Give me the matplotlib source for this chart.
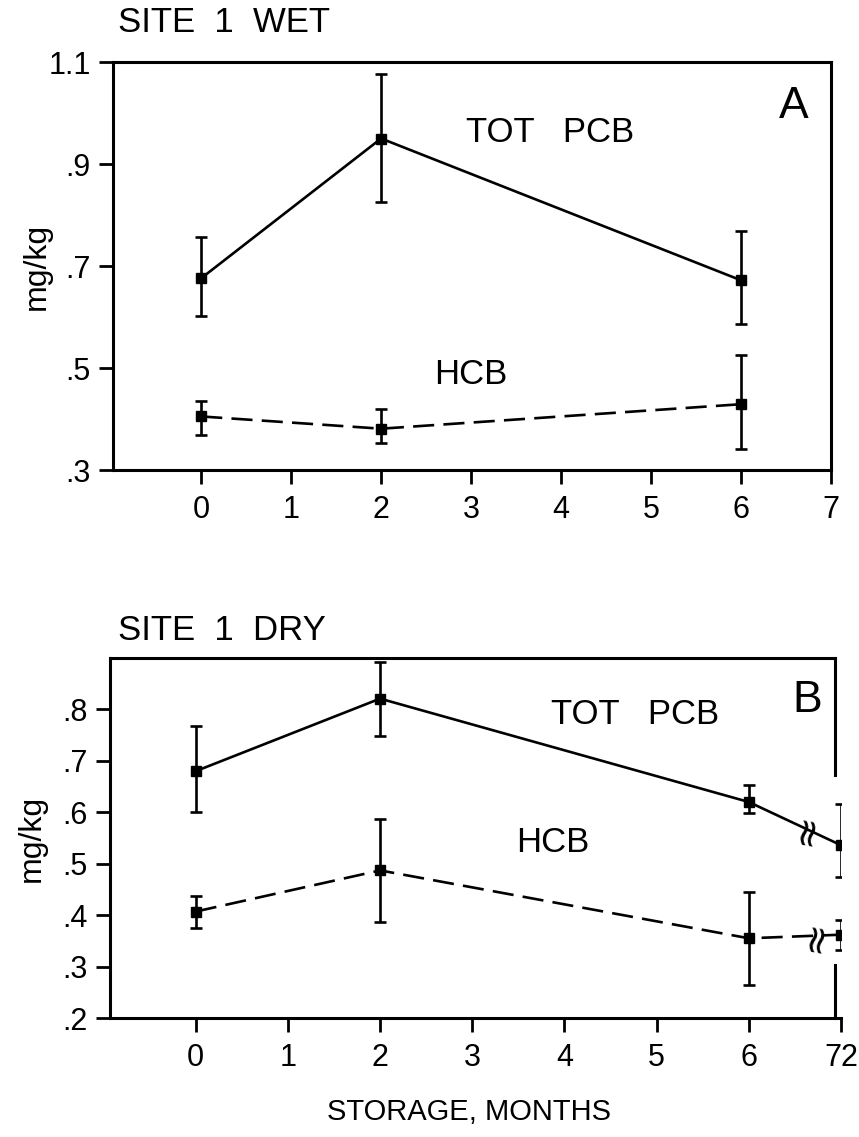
import numpy as np
import matplotlib.pyplot as plt
from matplotlib import transforms

plt.rcParams['font.family'] = ['Liberation Sans', 'DejaVu Sans']

# storage time (months); 72 months is drawn at position 7 after the axis break
months_a = [0, 2, 6]
pcb_a = [0.676, 0.950, 0.672]
pcb_a_lo = [0.601, 0.825, 0.586]
pcb_a_hi = [0.757, 1.077, 0.768]
hcb_a = [0.405, 0.381, 0.429]
hcb_a_lo = [0.369, 0.352, 0.341]
hcb_a_hi = [0.435, 0.419, 0.526]

months_b = [0, 2, 6, 7]
pcb_b = [0.680, 0.821, 0.620, 0.536]
pcb_b_lo = [0.601, 0.749, 0.598, 0.475]
pcb_b_hi = [0.767, 0.893, 0.653, 0.616]
hcb_b = [0.407, 0.487, 0.355, 0.362]
hcb_b_lo = [0.375, 0.386, 0.265, 0.332]
hcb_b_hi = [0.438, 0.586, 0.445, 0.390]

xticks_a = [0, 1, 2, 3, 4, 5, 6, 7]
xlabels_a = ['0', '1', '2', '3', '4', '5', '6', '7']
xticks_b = [0, 1, 2, 3, 4, 5, 6, 7]
xlabels_b = ['0', '1', '2', '3', '4', '5', '6', '72']
yticks_a = [0.3, 0.5, 0.7, 0.9, 1.1]
ylabels_a = ['.3', '.5', '.7', '.9', '1.1']
yticks_b = [0.2, 0.3, 0.4, 0.5, 0.6, 0.7, 0.8]
ylabels_b = ['.2', '.3', '.4', '.5', '.6', '.7', '.8']

W, H = 859, 1137
fig = plt.figure(figsize=(W / 100, H / 100), dpi=100)
axA = fig.add_axes([113 / W, 1 - 470 / H, 718 / W, 408 / H])
axB = fig.add_axes([110 / W, 1 - 1018 / H, 731 / W, 360 / H])

lw = 1.9


def px(x, y, s, size, **kw):
    # place a label by its pixel position in the 859x1137 picture
    fig.text(x / W, 1 - y / H, s, fontsize=size, ha='center', va='center', **kw)


def series(ax, x, y, lo, hi, ls):
    y = np.array(y)
    yerr = [y - np.array(lo), np.array(hi) - y]
    line, = ax.plot(x, y, color='black', lw=lw, ls=ls)
    if ls == '--':
        line.set_dashes([8, 3.5])
    ax.errorbar(x, y, yerr=yerr, fmt='s', color='black', ms=7, mfc='black',
                mec='black', elinewidth=1.9, capsize=4.5, capthick=1.9)


for ax in (axA, axB):
    for s in ax.spines.values():
        s.set_linewidth(2.2)
    ax.tick_params(direction='out', length=10, width=2, labelsize=22)
    ax.tick_params(axis='x', pad=8)
    ax.tick_params(axis='y', pad=6)
    ax.set_ylabel('mg/kg', fontsize=23)

# panel A
series(axA, months_a, pcb_a, pcb_a_lo, pcb_a_hi, '-')
series(axA, months_a, hcb_a, hcb_a_lo, hcb_a_hi, '--')
axA.set_xlim(-0.98, 7)
axA.set_ylim(0.3, 1.1)
axA.set_xticks(xticks_a, xlabels_a)
axA.set_yticks(yticks_a, ylabels_a)
axA.yaxis.set_label_coords(-0.085, 0.5)
fig.text(118 / W, 1 - 22 / H, 'SITE  1  WET', fontsize=25, ha='left', va='center')
px(550, 133, 'TOT   PCB', 25)
px(471, 375, 'HCB', 25)
px(794, 106, 'A', 32)

# panel B
series(axB, months_b, pcb_b, pcb_b_lo, pcb_b_hi, '-')
series(axB, months_b, hcb_b, hcb_b_lo, hcb_b_hi, '--')
axB.set_xlim(-0.93, 7)
axB.set_ylim(0.2, 0.9)
axB.set_xticks(xticks_b, xlabels_b)
axB.set_yticks(yticks_b, ylabels_b)
axB.yaxis.set_label_coords(-0.087, 0.5)
fig.text(118 / W, 1 - 631 / H, 'SITE  1  DRY', fontsize=25, ha='left', va='center')
px(635, 715, 'TOT   PCB', 25)
px(553, 843, 'HCB', 25)
px(807, 701, 'B', 32)

# broken right frame of panel B
axB.spines['top'].set_visible(False)
axB.spines['right'].set_visible(False)
blend = transforms.blended_transform_factory(axB.transData, axB.transAxes)
xr = 6.94
axB.plot([-0.93, xr], [1, 1], color='black', lw=2.2, transform=blend, clip_on=False)
axB.plot([xr, xr], [1, 0.675], color='black', lw=2.2, transform=blend, clip_on=False)
axB.plot([xr, xr], [0.147, 0], color='black', lw=2.2, transform=blend, clip_on=False)

# break marks on the lines between 6 and 72
for xb, xs, ys in ((6.62, months_b, pcb_b), (6.72, months_b, hcb_b)):
    yb = np.interp(xb, xs, ys)
    axB.text(xb, yb, '\u2248', fontsize=28, rotation=80, ha='center', va='center',
             family='DejaVu Sans', zorder=5)

px(469, 1112, 'STORAGE, MONTHS', 21)

fig.savefig('out.png', dpi=100)
